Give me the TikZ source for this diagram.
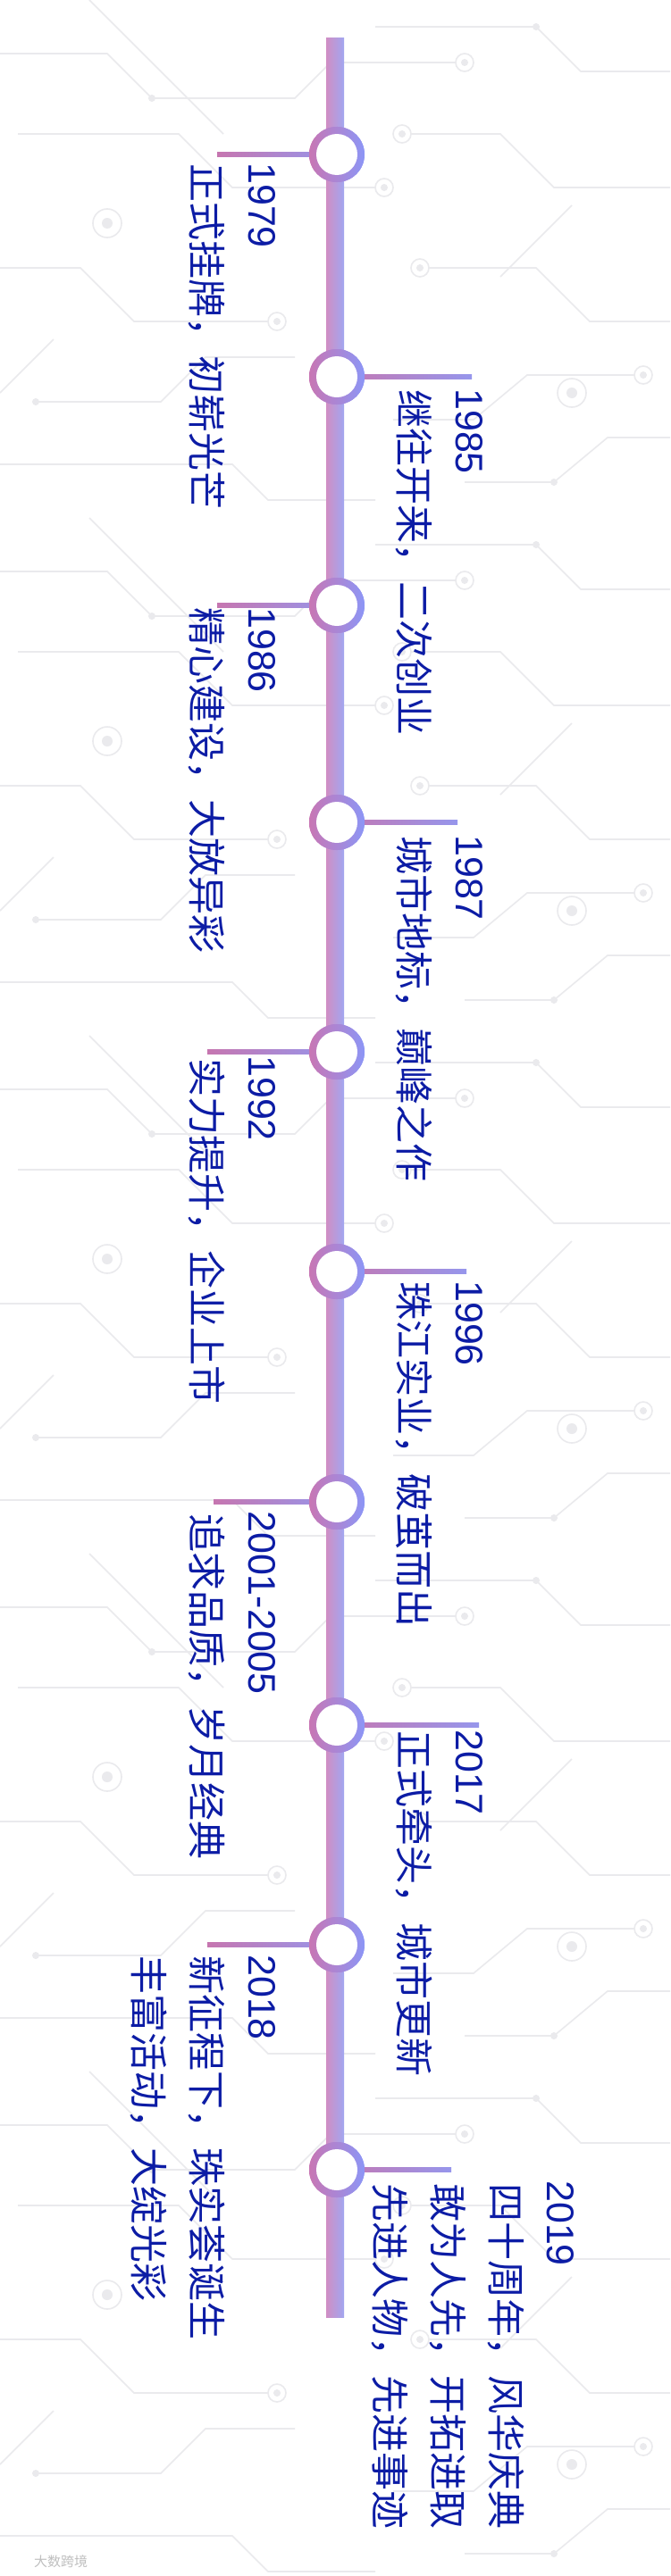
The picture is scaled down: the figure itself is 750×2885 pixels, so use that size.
\documentclass[tikz,border=0pt]{standalone}
\usepackage{fontspec}
\newfontfamily\cjk{Noto Sans CJK SC}
\newfontfamily\yrfont{Liberation Sans}
\usetikzlibrary{calc}
\definecolor{txt}{RGB}{12,28,165}
\definecolor{barL}{RGB}{208,142,196}
\definecolor{barR}{RGB}{162,166,240}
\definecolor{ringL}{RGB}{200,118,180}
\definecolor{ringR}{RGB}{140,150,246}
\definecolor{lnL}{RGB}{198,118,176}
\definecolor{lnR}{RGB}{150,150,236}
\definecolor{bgline}{RGB}{234,234,237}
\tikzset{
  yearlbl/.style={rotate=-90, anchor=base west, inner sep=0, text=txt, font=\yrfont\fontsize{43}{50}\selectfont},
  desclbl/.style={rotate=-90, anchor=base west, inner sep=0, text=txt, font=\cjk\fontsize{43}{50}\selectfont},
  ringnode/.style={circle, inner sep=0, minimum size=62pt, left color=ringL, right color=ringR},
  holenode/.style={circle, inner sep=0, minimum size=46pt, fill=white},
  trace/.style={draw=bgline, line width=1.6pt},
  pad/.style={draw=bgline, line width=1.6pt, fill=white},
}
\begin{document}
\begin{tikzpicture}[x=1pt,y=1pt]
\fill[white] (0,0) rectangle (750,-2885);
\useasboundingbox (0,0) rectangle (750,-2885);
% background circuit pattern
\foreach \dy in {0,580,1160,1740,2320}{
\begin{scope}[yshift=-\dy pt]
  \draw[trace] (0,-60) -- (120,-60) -- (170,-110) -- (330,-110) -- (370,-70) -- (510,-70);
  \draw[trace] (20,-150) -- (200,-150) -- (260,-210) -- (420,-210);
  \draw[trace] (420,-30) -- (600,-30) -- (650,-80) -- (750,-80);
  \draw[trace] (460,-150) -- (560,-150) -- (620,-210) -- (750,-210);
  \draw[trace] (0,-300) -- (90,-300) -- (150,-360) -- (300,-360);
  \draw[trace] (480,-300) -- (600,-300) -- (660,-360) -- (750,-360);
  \draw[trace] (40,-450) -- (180,-450) -- (230,-400) -- (330,-400);
  \draw[trace] (440,-470) -- (530,-470) -- (590,-420) -- (710,-420);
  \draw[trace] (0,-520) -- (260,-520) -- (300,-560) -- (420,-560);
  \draw[trace] (520,-540) -- (620,-540) -- (680,-490) -- (750,-490);
  \draw[trace] (100,0) -- (250,-150);
  \draw[trace] (640,-230) -- (560,-310);
  \draw[trace] (60,-380) -- (0,-440);
  \draw[pad] (520,-70) circle (10); \fill[bgline] (520,-70) circle (4);
  \draw[pad] (430,-210) circle (10); \fill[bgline] (430,-210) circle (4);
  \draw[pad] (450,-150) circle (10); \fill[bgline] (450,-150) circle (4);
  \draw[pad] (310,-360) circle (10); \fill[bgline] (310,-360) circle (4);
  \draw[pad] (470,-300) circle (10); \fill[bgline] (470,-300) circle (4);
  \draw[pad] (720,-420) circle (10); \fill[bgline] (720,-420) circle (4);
  \draw[pad] (120,-250) circle (16); \fill[bgline] (120,-250) circle (6);
  \draw[pad] (640,-440) circle (16); \fill[bgline] (640,-440) circle (6);
  \fill[bgline] (40,-450) circle (4);
  \fill[bgline] (170,-110) circle (4);
  \fill[bgline] (620,-540) circle (4);
  \fill[bgline] (600,-30) circle (4);
\end{scope}}
% central bar
\shade[left color=barL, right color=barR] (365,-43) rectangle (385,-2595);
% events: name / centre y / free end x
\foreach \n/\cy/\ex in {a/173/243, b/422/528, c/678/243, d/921/512, e/1178/232, f/1424/522, g/1682/239, h/1932/536, i/2178/232, j/2430/505}{
  \node[ringnode] (c\n) at (377,-\cy) {};
  \coordinate (e\n) at (\ex,-\cy);
  \shade[left color=lnL, right color=lnR] ($(e\n)+(0,2.2)$) rectangle ($(c\n.center)+(0,-2.2)$);
  \node[ringnode] (r\n) at (c\n) {};
  \node[holenode] (h\n) at (c\n) {};
}
% texts
\node[yearlbl] (ya) at (278,-182) {1979};
\node[desclbl] (da) at (215,-183) {正式挂牌，初崭光芒};
\node[yearlbl] (yb) at (510,-435) {1985};
\node[desclbl] (db) at (447,-436) {继往开来，二次创业};
\node[yearlbl] (yc) at (278,-680) {1986};
\node[desclbl] (dc) at (215,-680) {精心建设，大放异彩};
\node[yearlbl] (yd) at (510,-935) {1987};
\node[desclbl] (dd) at (447,-936) {城市地标，巅峰之作};
\node[yearlbl] (ye) at (278,-1182) {1992};
\node[desclbl] (de) at (215,-1185) {实力提升，企业上市};
\node[yearlbl] (yf) at (510,-1434) {1996};
\node[desclbl] (df) at (447,-1435) {珠江实业，破茧而出};
\node[yearlbl] (yg) at (278,-1692) {2001-2005};
\node[desclbl] (dg) at (215,-1695) {追求品质，岁月经典};
\node[yearlbl] (yh) at (510,-1937) {2017};
\node[desclbl] (dh) at (447,-1938) {正式牵头，城市更新};
\node[yearlbl] (yi) at (278,-2189) {2018};
\node[desclbl] (di) at (215,-2190) {新征程下，珠实荟诞生};
\node[desclbl] (di2) at (150,-2190) {丰富活动，大绽光彩};
\node[yearlbl] (yj) at (612,-2442) {2019};
\node[desclbl] (dj) at (550,-2445) {四十周年，风华庆典};
\node[desclbl] (dj2) at (485,-2445) {敢为人先，开拓进取};
\node[desclbl] (dj3) at (420,-2445) {先进人物，先进事迹};
% watermark
\node[anchor=base west, inner sep=0, text=black!25, font=\cjk\fontsize{15}{18}\selectfont] (wm) at (38,-2874) {大数跨境};
\end{tikzpicture}
\end{document}
